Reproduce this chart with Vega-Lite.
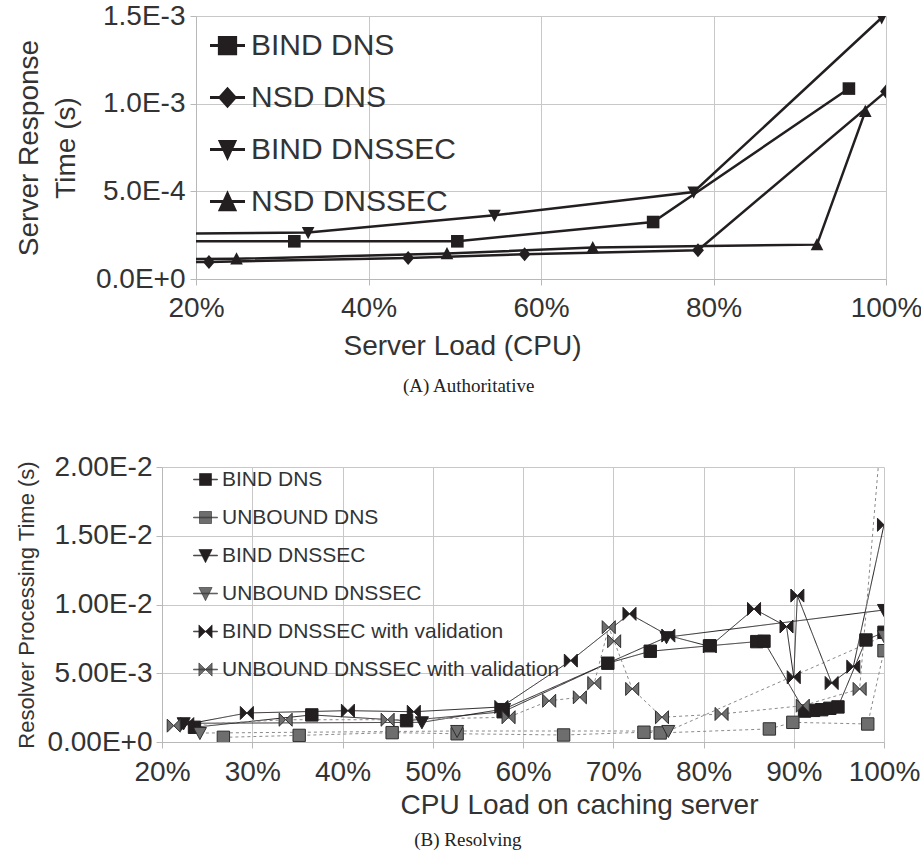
{
  "$schema": "https://vega.github.io/schema/vega-lite/v6.json",
  "padding": {"left": 8, "top": 2, "right": 0, "bottom": 0},
  "background": "white",
  "config": {
    "view": {"stroke": null},
    "font": "Liberation Sans",
    "axis": {"gridColor": "#c8c8c8", "domainColor": "#b8b8b8", "tickColor": "#b8b8b8", "labelColor": "#333333", "titleColor": "#333333", "titleFontWeight": "normal", "labelFont": "Liberation Sans", "titleFont": "Liberation Sans", "tickSize": 6, "labelFlush": false, "labelOverlap": false},
    "legend": {"labelFont": "Liberation Sans", "labelColor": "#333333", "labelLimit": 600},
    "title": {"font": "Liberation Serif", "fontWeight": "normal", "color": "#222222"}
  },
  "resolve": {
    "scale": {"shape": "independent", "fill": "independent", "stroke": "independent", "color": "independent", "strokeDash": "independent", "x": "independent", "y": "independent"},
    "legend": {"shape": "independent", "fill": "independent", "stroke": "independent", "color": "independent", "strokeDash": "independent"}
  },
  "spacing": 57,
  "vconcat": [
    {"spacing": 0,
     "resolve": {"scale": {"shape": "independent", "fill": "independent", "stroke": "independent", "color": "independent", "strokeDash": "independent"}, "legend": {"shape": "independent", "fill": "independent", "stroke": "independent", "color": "independent", "strokeDash": "independent"}},
     "hconcat": [
    {"width": 1, "height": 1, "data": {"values": [{"s": "spacer"}]}, "mark": {"type": "point", "opacity": 0}, "encoding": {}},
    {
      "width": 690,
      "height": 263,
      "title": {"text": "(A) Authoritative", "orient": "bottom", "anchor": "middle", "frame": "bounds", "fontSize": 19, "offset": 17},
      "data": {"values": [
        {"s": "BIND DNS", "x": 0.10, "y": 0.000215},
        {"s": "BIND DNS", "x": 0.314, "y": 0.000215},
        {"s": "BIND DNS", "x": 0.503, "y": 0.000215},
        {"s": "BIND DNS", "x": 0.73, "y": 0.000325},
        {"s": "BIND DNS", "x": 0.957, "y": 0.001086},
        {"s": "NSD DNS", "x": 0.10, "y": 0.000095},
        {"s": "NSD DNS", "x": 0.215, "y": 0.000097},
        {"s": "NSD DNS", "x": 0.446, "y": 0.00012},
        {"s": "NSD DNS", "x": 0.581, "y": 0.000141},
        {"s": "NSD DNS", "x": 0.782, "y": 0.000164},
        {"s": "NSD DNS", "x": 1.0, "y": 0.00107},
        {"s": "BIND DNSSEC", "x": 0.10, "y": 0.000255},
        {"s": "BIND DNSSEC", "x": 0.33, "y": 0.000265},
        {"s": "BIND DNSSEC", "x": 0.546, "y": 0.000363},
        {"s": "BIND DNSSEC", "x": 0.777, "y": 0.000496},
        {"s": "BIND DNSSEC", "x": 0.995, "y": 0.00149},
        {"s": "NSD DNSSEC", "x": 0.10, "y": 0.000112},
        {"s": "NSD DNSSEC", "x": 0.247, "y": 0.000115},
        {"s": "NSD DNSSEC", "x": 0.491, "y": 0.000145},
        {"s": "NSD DNSSEC", "x": 0.66, "y": 0.000179},
        {"s": "NSD DNSSEC", "x": 0.92, "y": 0.000196},
        {"s": "NSD DNSSEC", "x": 0.976, "y": 0.000956}
      ]},
      "encoding": {
        "x": {"field": "x", "type": "quantitative", "scale": {"domain": [0.2, 1]},
          "axis": {"values": [0.2, 0.4, 0.6, 0.8, 1.0], "format": ".0%", "labelFontSize": 28, "labelPadding": 9, "title": "Server Load (CPU)", "titleFontSize": 28, "titlePadding": 10, "titleX": 266}},
        "y": {"field": "y", "type": "quantitative", "scale": {"domain": [0, 0.0015]},
          "axis": {"values": [0, 0.0005, 0.001, 0.0015], "labelExpr": "upper(format(datum.value, '.1e'))", "labelFontSize": 28, "labelPadding": 5, "title": ["Server Response", "Time (s)"], "titleFontSize": 28, "titleLineHeight": 37, "titlePadding": 15}}
      },
      "resolve": {"scale": {"shape": "independent"}, "legend": {"shape": "independent"}},
      "layer": [
        {"mark": {"type": "line", "color": "#231f20", "strokeWidth": 2.5, "clip": true},
          "encoding": {"detail": {"field": "s"}}},
        {"mark": {"type": "point", "filled": true, "opacity": 1, "color": "#231f20", "clip": true, "size": 196},
          "encoding": {
            "shape": {"field": "s", "type": "nominal", "legend": null,
              "scale": {"domain": ["BIND DNS", "NSD DNS", "BIND DNSSEC", "NSD DNSSEC"],
                "range": ["M-0.9,-0.9H0.9V0.9H-0.9Z", "M0,-1L0.85,0L0,1L-0.85,0Z", "M-0.9,-0.8L0.9,-0.8L0,0.95Z", "M0,-0.95L0.9,0.8L-0.9,0.8Z"]}
          }}},
        {"transform": [{"filter": "false"}],
          "mark": {"type": "point", "filled": true, "opacity": 1, "color": "#231f20"},
          "encoding": {
            "shape": {"field": "s", "type": "nominal",
              "scale": {"domain": ["BIND DNS", "NSD DNS", "BIND DNSSEC", "NSD DNSSEC"],
                "range": ["M-1,-0.09H1V0.09H-1ZM-0.55,-0.55H0.55V0.55H-0.55Z", "M-1,-0.09H1V0.09H-1ZM0,-0.62L0.55,0L0,0.62L-0.55,0Z", "M-1,-0.09H1V0.09H-1ZM-0.55,-0.55H0.55L0,0.65Z", "M-1,-0.09H1V0.09H-1ZM0,-0.65L0.55,0.55L-0.55,0.55Z"]},
              "legend": {"orient": "none", "legendX": 14, "legendY": 12, "title": null, "labelFontSize": 30, "symbolSize": 1225, "rowPadding": 19, "labelOffset": 6, "symbolStrokeWidth": 0}
            }}}
      ]
    }]},
    {"spacing": 0,
     "resolve": {"scale": {"shape": "independent", "fill": "independent", "stroke": "independent", "color": "independent", "strokeDash": "independent"}, "legend": {"shape": "independent", "fill": "independent", "stroke": "independent", "color": "independent", "strokeDash": "independent"}},
     "hconcat": [
    {"width": 1, "height": 1, "data": {"values": [{"s": "spacer"}]}, "mark": {"type": "point", "opacity": 0}, "encoding": {}},
    {
      "width": 722,
      "height": 275,
      "title": {"text": "(B) Resolving", "orient": "bottom", "anchor": "middle", "frame": "bounds", "fontSize": 19, "offset": 12},
      "data": {"values": [
        {"s": "BIND DNS", "x": 0.236, "y": 0.00107},
        {"s": "BIND DNS", "x": 0.366, "y": 0.00197},
        {"s": "BIND DNS", "x": 0.471, "y": 0.00155},
        {"s": "BIND DNS", "x": 0.578, "y": 0.0022},
        {"s": "BIND DNS", "x": 0.694, "y": 0.00573},
        {"s": "BIND DNS", "x": 0.741, "y": 0.0066},
        {"s": "BIND DNS", "x": 0.807, "y": 0.007},
        {"s": "BIND DNS", "x": 0.859, "y": 0.0073},
        {"s": "BIND DNS", "x": 0.867, "y": 0.00733},
        {"s": "BIND DNS", "x": 0.912, "y": 0.00225},
        {"s": "BIND DNS", "x": 0.922, "y": 0.0023},
        {"s": "BIND DNS", "x": 0.931, "y": 0.00235},
        {"s": "BIND DNS", "x": 0.94, "y": 0.00245},
        {"s": "BIND DNS", "x": 0.949, "y": 0.00255},
        {"s": "BIND DNS", "x": 0.98, "y": 0.00742},
        {"s": "BIND DNS", "x": 1.0, "y": 0.00798},
        {"s": "UNBOUND DNS", "x": 0.268, "y": 0.00034},
        {"s": "UNBOUND DNS", "x": 0.352, "y": 0.00048},
        {"s": "UNBOUND DNS", "x": 0.455, "y": 0.00068},
        {"s": "UNBOUND DNS", "x": 0.527, "y": 0.0006},
        {"s": "UNBOUND DNS", "x": 0.645, "y": 0.00051},
        {"s": "UNBOUND DNS", "x": 0.734, "y": 0.00071},
        {"s": "UNBOUND DNS", "x": 0.752, "y": 0.00066},
        {"s": "UNBOUND DNS", "x": 0.873, "y": 0.00095},
        {"s": "UNBOUND DNS", "x": 0.899, "y": 0.00143},
        {"s": "UNBOUND DNS", "x": 0.982, "y": 0.00131},
        {"s": "UNBOUND DNS", "x": 1.0, "y": 0.00664},
        {"s": "BIND DNSSEC", "x": 0.224, "y": 0.00136},
        {"s": "BIND DNSSEC", "x": 0.488, "y": 0.00143},
        {"s": "BIND DNSSEC", "x": 0.579, "y": 0.0024},
        {"s": "BIND DNSSEC", "x": 0.759, "y": 0.00762},
        {"s": "BIND DNSSEC", "x": 1.0, "y": 0.0096},
        {"s": "UNBOUND DNSSEC", "x": 0.242, "y": 0.00065},
        {"s": "UNBOUND DNSSEC", "x": 0.527, "y": 0.0008},
        {"s": "UNBOUND DNSSEC", "x": 0.761, "y": 0.0008},
        {"s": "UNBOUND DNSSEC", "x": 1.0, "y": 0.0077},
        {"s": "BIND DNSSEC with validation", "x": 0.228, "y": 0.0013},
        {"s": "BIND DNSSEC with validation", "x": 0.294, "y": 0.00211},
        {"s": "BIND DNSSEC with validation", "x": 0.406, "y": 0.00228},
        {"s": "BIND DNSSEC with validation", "x": 0.479, "y": 0.0022},
        {"s": "BIND DNSSEC with validation", "x": 0.576, "y": 0.00255},
        {"s": "BIND DNSSEC with validation", "x": 0.653, "y": 0.00592},
        {"s": "BIND DNSSEC with validation", "x": 0.718, "y": 0.00932},
        {"s": "BIND DNSSEC with validation", "x": 0.761, "y": 0.00774},
        {"s": "BIND DNSSEC with validation", "x": 0.807, "y": 0.00695},
        {"s": "BIND DNSSEC with validation", "x": 0.856, "y": 0.00968},
        {"s": "BIND DNSSEC with validation", "x": 0.892, "y": 0.0084},
        {"s": "BIND DNSSEC with validation", "x": 0.9, "y": 0.00471},
        {"s": "BIND DNSSEC with validation", "x": 0.904, "y": 0.01065},
        {"s": "BIND DNSSEC with validation", "x": 0.942, "y": 0.00429},
        {"s": "BIND DNSSEC with validation", "x": 0.966, "y": 0.00548},
        {"s": "BIND DNSSEC with validation", "x": 1.0, "y": 0.0158},
        {"s": "UNBOUND DNSSEC with validation", "x": 0.213, "y": 0.00119},
        {"s": "UNBOUND DNSSEC with validation", "x": 0.337, "y": 0.00162},
        {"s": "UNBOUND DNSSEC with validation", "x": 0.45, "y": 0.00162},
        {"s": "UNBOUND DNSSEC with validation", "x": 0.584, "y": 0.0018},
        {"s": "UNBOUND DNSSEC with validation", "x": 0.629, "y": 0.003},
        {"s": "UNBOUND DNSSEC with validation", "x": 0.663, "y": 0.00325},
        {"s": "UNBOUND DNSSEC with validation", "x": 0.679, "y": 0.00429},
        {"s": "UNBOUND DNSSEC with validation", "x": 0.695, "y": 0.00835},
        {"s": "UNBOUND DNSSEC with validation", "x": 0.701, "y": 0.00733},
        {"s": "UNBOUND DNSSEC with validation", "x": 0.721, "y": 0.00386},
        {"s": "UNBOUND DNSSEC with validation", "x": 0.754, "y": 0.0018},
        {"s": "UNBOUND DNSSEC with validation", "x": 0.82, "y": 0.00204},
        {"s": "UNBOUND DNSSEC with validation", "x": 0.91, "y": 0.00264},
        {"s": "UNBOUND DNSSEC with validation", "x": 0.973, "y": 0.00386},
        {"s": "UNBOUND DNSSEC with validation", "x": 1.0, "y": 0.025}
      ]},
      "encoding": {
        "x": {"field": "x", "type": "quantitative", "scale": {"domain": [0.2, 1]},
          "axis": {"values": [0.2, 0.3, 0.4, 0.5, 0.6, 0.7, 0.8, 0.9, 1.0], "format": ".0%", "labelFontSize": 28, "labelPadding": 10, "title": "CPU Load on caching server", "titleFontSize": 28, "titlePadding": 5, "titleX": 417}},
        "y": {"field": "y", "type": "quantitative", "scale": {"domain": [0, 0.02]},
          "axis": {"values": [0, 0.005, 0.01, 0.015, 0.02], "labelExpr": "upper(format(datum.value, '.2e'))", "labelFontSize": 28, "labelPadding": 4, "title": "Resolver Processing Time (s)", "titleFontSize": 22, "titlePadding": 8}}
      },
      "resolve": {"scale": {"shape": "independent", "fill": "independent", "stroke": "independent"}, "legend": {"shape": "independent", "fill": "independent", "stroke": "independent"}},
      "layer": [
        {"mark": {"type": "line", "strokeWidth": 1, "clip": true},
          "encoding": {
            "color": {"field": "s", "type": "nominal", "legend": null,
              "scale": {"domain": ["UNBOUND DNSSEC with validation", "BIND DNSSEC with validation", "UNBOUND DNSSEC", "BIND DNSSEC", "UNBOUND DNS", "BIND DNS"],
                "range": ["#8a8a8a", "#231f20", "#8a8a8a", "#231f20", "#8a8a8a", "#231f20"]}},
            "strokeDash": {"field": "s", "type": "nominal", "legend": null,
              "scale": {"domain": ["UNBOUND DNSSEC with validation", "BIND DNSSEC with validation", "UNBOUND DNSSEC", "BIND DNSSEC", "UNBOUND DNS", "BIND DNS"],
                "range": [[3, 3], [1, 0], [3, 3], [1, 0], [3, 3], [1, 0]]}}
          }},
        {"mark": {"type": "point", "filled": true, "opacity": 1, "clip": true, "strokeWidth": 1, "size": 170},
          "encoding": {
            "fill": {"field": "s", "type": "nominal", "legend": null,
              "scale": {"domain": ["BIND DNS", "UNBOUND DNS", "BIND DNSSEC", "UNBOUND DNSSEC", "BIND DNSSEC with validation", "UNBOUND DNSSEC with validation"],
                "range": ["#231f20", "#6e6e6e", "#231f20", "#6e6e6e", "#231f20", "#6e6e6e"]}},
            "stroke": {"field": "s", "type": "nominal", "legend": null,
              "scale": {"domain": ["BIND DNS", "UNBOUND DNS", "BIND DNSSEC", "UNBOUND DNSSEC", "BIND DNSSEC with validation", "UNBOUND DNSSEC with validation"],
                "range": ["#231f20", "#2e2e2e", "#231f20", "#2e2e2e", "#231f20", "#2e2e2e"]}},
            "shape": {"field": "s", "type": "nominal", "legend": null,
              "scale": {"domain": ["BIND DNS", "UNBOUND DNS", "BIND DNSSEC", "UNBOUND DNSSEC", "BIND DNSSEC with validation", "UNBOUND DNSSEC with validation"],
                "range": ["M-0.95,-0.95H0.95V0.95H-0.95Z", "M-0.95,-0.95H0.95V0.95H-0.95Z", "M-1,-0.85L1,-0.85L0,1Z", "M-1,-0.85L1,-0.85L0,1Z", "M-1,-1L0,0L-1,1ZM1,-1L0,0L1,1Z", "M-1,-1L0,0L-1,1ZM1,-1L0,0L1,1Z"]}
          }}},
        {"transform": [{"filter": "false"}],
          "mark": {"type": "point", "filled": true, "opacity": 1, "strokeWidth": 0.6},
          "encoding": {
            "fill": {"field": "s", "type": "nominal",
              "scale": {"domain": ["BIND DNS", "UNBOUND DNS", "BIND DNSSEC", "UNBOUND DNSSEC", "BIND DNSSEC with validation", "UNBOUND DNSSEC with validation"],
                "range": ["#231f20", "#6e6e6e", "#231f20", "#6e6e6e", "#231f20", "#6e6e6e"]},
              "legend": {"orient": "none", "legendX": 31, "legendY": 0, "title": null, "labelFontSize": 21, "symbolSize": 576, "rowPadding": 15, "labelOffset": 4, "symbolStrokeWidth": 0.6}},
            "stroke": {"field": "s", "type": "nominal",
              "scale": {"domain": ["BIND DNS", "UNBOUND DNS", "BIND DNSSEC", "UNBOUND DNSSEC", "BIND DNSSEC with validation", "UNBOUND DNSSEC with validation"],
                "range": ["#231f20", "#2e2e2e", "#231f20", "#2e2e2e", "#231f20", "#2e2e2e"]},
              "legend": {"orient": "none", "legendX": 31, "legendY": 0, "title": null, "labelFontSize": 21, "symbolSize": 576, "rowPadding": 15, "labelOffset": 4, "symbolStrokeWidth": 0.6}},
            "shape": {"field": "s", "type": "nominal",
              "scale": {"domain": ["BIND DNS", "UNBOUND DNS", "BIND DNSSEC", "UNBOUND DNSSEC", "BIND DNSSEC with validation", "UNBOUND DNSSEC with validation"],
                "range": ["M-1,-0.03H1V0.03H-1ZM-0.5,-0.5H0.5V0.5H-0.5Z", "M-1,-0.03H1V0.03H-1ZM-0.5,-0.5H0.5V0.5H-0.5Z", "M-1,-0.03H1V0.03H-1ZM-0.55,-0.5H0.55L0,0.6Z", "M-1,-0.03H1V0.03H-1ZM-0.55,-0.5H0.55L0,0.6Z", "M-1,-0.03H1V0.03H-1ZM-0.55,-0.55L0,0L-0.55,0.55ZM0.55,-0.55L0.55,0.55L0,0Z", "M-1,-0.03H1V0.03H-1ZM-0.55,-0.55L0,0L-0.55,0.55ZM0.55,-0.55L0.55,0.55L0,0Z"]},
              "legend": {"orient": "none", "legendX": 31, "legendY": 0, "title": null, "labelFontSize": 21, "symbolSize": 576, "rowPadding": 15, "labelOffset": 4, "symbolStrokeWidth": 0.6}}
          }}
      ]
    }]}
  ]
}
